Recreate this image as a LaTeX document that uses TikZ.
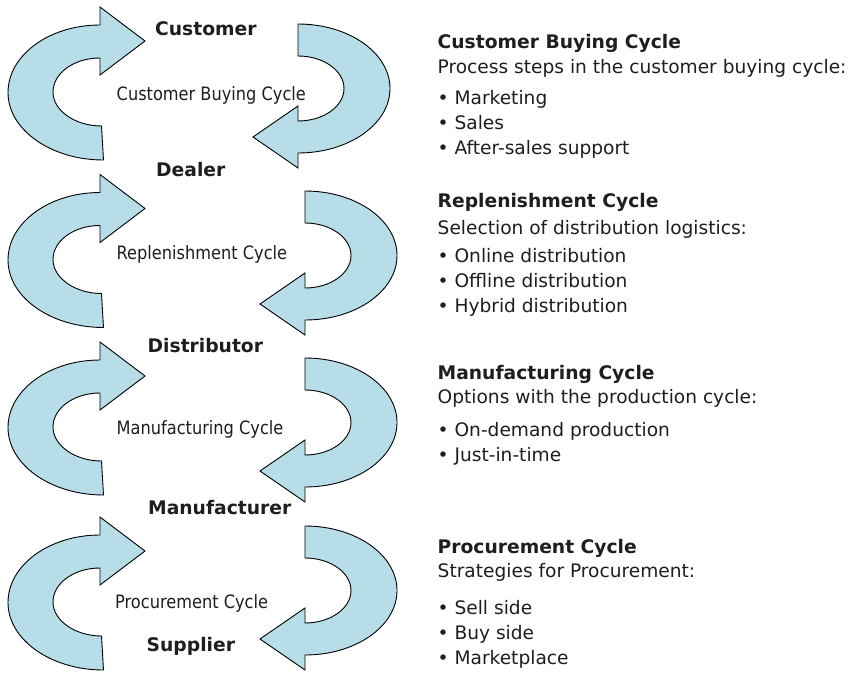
\documentclass[tikz,border=0pt]{standalone}
\usepackage{fontspec}
\setmainfont{DejaVu Sans}
\newfontfamily\cyclabelfont[FakeStretch=0.88]{DejaVu Sans}
\definecolor{arrowblue}{RGB}{183,221,232}
\definecolor{ink}{RGB}{30,30,30}
\tikzset{
  cyc/.style={draw=black, line width=0.9pt, fill=arrowblue, line join=miter},
  role/.style={anchor=base west, inner sep=0pt, text=ink, font=\fontsize{18.7}{22}\selectfont\bfseries},
  cyclab/.style={anchor=base west, inner sep=0pt, text=ink, font=\fontsize{18.4}{22}\selectfont\cyclabelfont},
  headtxt/.style={anchor=base west, inner sep=0pt, text=ink, font=\fontsize{18.7}{22}\selectfont\bfseries},
  bodytxt/.style={anchor=base west, inner sep=0pt, text=ink, font=\fontsize{18.6}{22}\selectfont},
}
\newcommand\cycleleft[1]{%
  \begin{scope}[shift={(0,#1)}]
    \draw[cyc] (103.5,135) -- (101.5,101)
      .. controls (75.5,101) and (53,85.8) .. (53,67)
      .. controls (53,48.2) and (74,33) .. (100,33)
      -- (100,50) -- (145,16) -- (100,-18) -- (100,0)
      .. controls (49.2,0) and (8,30.2) .. (8,67.5)
      .. controls (8,104.8) and (51,135) .. (103.5,135) -- cycle;
  \end{scope}}
\newcommand\cycleright[2]{%
  \begin{scope}[shift={(#1,#2)}]
    \draw[cyc] (305,0) -- (305,32)
      .. controls (330.4,32) and (351,46.6) .. (351,64.5)
      .. controls (351,82.4) and (330.4,97) .. (305,97)
      -- (305,82) -- (260,113) -- (305,144) -- (305,129)
      .. controls (355.8,129) and (397,100.1) .. (397,64.5)
      .. controls (397,28.9) and (355.8,0) .. (305,0) -- cycle;
  \end{scope}}
\begin{document}
\begin{tikzpicture}[x={(1pt,0)}, y={(0,-1pt)}]
  \useasboundingbox[fill=white] (0,0) rectangle (854,672);

  % cycle arrows
  \cycleleft{25}
  \cycleright{-7}{24}
  \cycleleft{192.5}
  \cycleright{0}{191}
  \cycleleft{360}
  \cycleright{0}{358}
  \cycleleft{535}
  \cycleright{0}{526}

  % roles
  \node[role] (customer) at (155,35) {Customer};
  \node[role] (dealer) at (156,176) {Dealer};
  \node[role] (distributor) at (147.5,352.5) {Distributor};
  \node[role] (manufacturer) at (148,514) {Manufacturer};
  \node[role] (supplier) at (146.5,651.7) {Supplier};

  % cycle labels
  \node[cyclab] (lab1) at (116.5,100.7) {Customer Buying Cycle};
  \node[cyclab] (lab2) at (116.5,259.3) {Replenishment Cycle};
  \node[cyclab] (lab3) at (116.5,434.3) {Manufacturing Cycle};
  \node[cyclab] (lab4) at (115,608.3) {Procurement Cycle};

  % right-hand descriptions
  \node[headtxt] (t1) at (437.5,48.3) {Customer Buying Cycle};
  \node[bodytxt] (s1) at (437.5,73.8) {Process steps in the customer buying cycle:};
  \node[bodytxt] (b11) at (437.5,104.5) {• Marketing};
  \node[bodytxt] (b12) at (437.5,129.5) {• Sales};
  \node[bodytxt] (b13) at (437.5,154.5) {• After-sales support};

  \node[headtxt] (t2) at (437.5,207.3) {Replenishment Cycle};
  \node[bodytxt] (s2) at (437.5,234) {Selection of distribution logistics:};
  \node[bodytxt] (b21) at (437.5,262.7) {• Online distribution};
  \node[bodytxt] (b22) at (437.5,287.7) {• Offline distribution};
  \node[bodytxt] (b23) at (437.5,312.7) {• Hybrid distribution};

  \node[headtxt] (t3) at (437.5,379.3) {Manufacturing Cycle};
  \node[bodytxt] (s3) at (437.5,403.3) {Options with the production cycle:};
  \node[bodytxt] (b31) at (437.5,436) {• On-demand production};
  \node[bodytxt] (b32) at (437.5,461) {• Just-in-time};

  \node[headtxt] (t4) at (437.5,553.3) {Procurement Cycle};
  \node[bodytxt] (s4) at (437.5,577.7) {Strategies for Procurement:};
  \node[bodytxt] (b41) at (437.5,614.3) {• Sell side};
  \node[bodytxt] (b42) at (437.5,639.3) {• Buy side};
  \node[bodytxt] (b43) at (437.5,664.3) {• Marketplace};
\end{tikzpicture}
\end{document}
